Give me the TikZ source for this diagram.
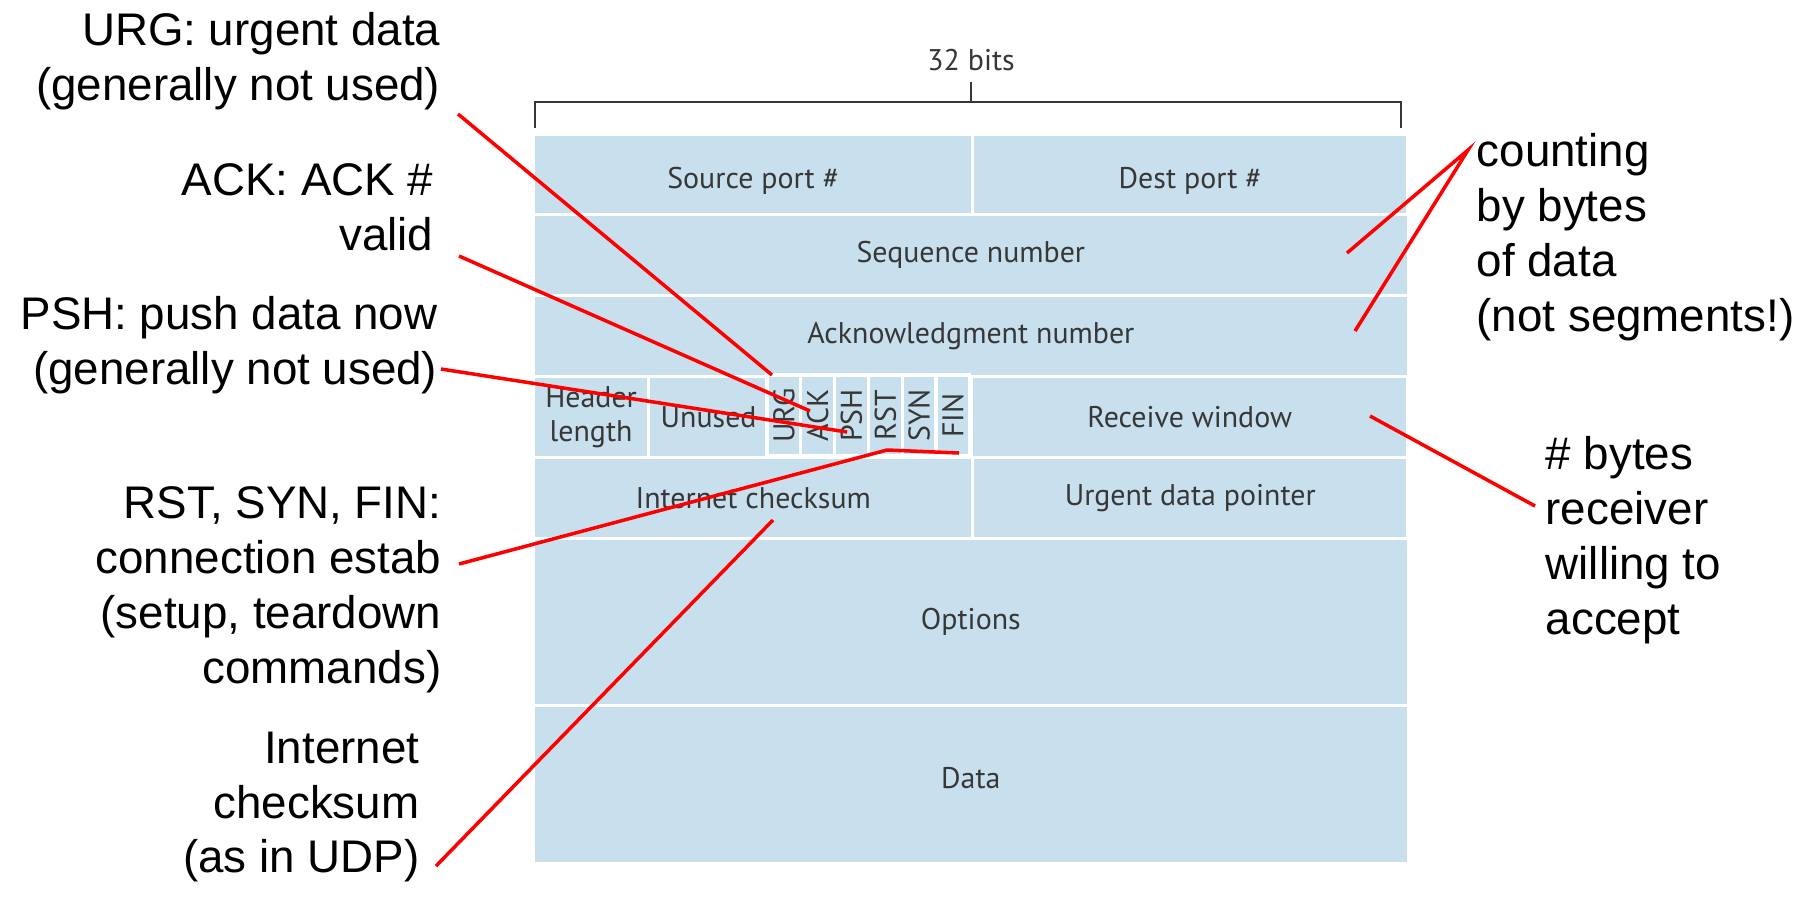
\documentclass[tikz,border=0pt]{standalone}
\usepackage{fontspec}
\setmainfont{Liberation Sans}
\newfontfamily\cellfont{PT Sans}
\definecolor{cellblue}{RGB}{200,224,237}
\definecolor{celltext}{RGB}{55,55,55}
\begin{document}
\begin{tikzpicture}[x=0.01cm,y=-0.01cm,
  cell/.style={draw=white,line width=0.9pt,fill=cellblue,inner sep=0pt,anchor=north west,
    text=celltext,font=\cellfont\fontsize{8.5}{9.5}\selectfont},
  note/.style={inner sep=0pt,font=\fontsize{13}{15.6}\selectfont},
  pointer/.style={red,line width=1pt}]
\useasboundingbox (0,0) rectangle (1813,902);
\node[inner sep=0pt,text=celltext,font=\cellfont\fontsize{8.5}{9.5}\selectfont] (bits) at (971,60) {32 bits};
\draw[celltext,line width=0.6pt] (535,128) |- (1401,102) -- (1401,128) (971,102) -- (971,82);
\node[cell,minimum width=4.39cm,minimum height=0.80cm,text height=0.35cm,text depth=0.07cm] (src) at (532,133) {Source port \#};
\node[cell,minimum width=4.35cm,minimum height=0.80cm,text height=0.35cm,text depth=0.07cm] (dst) at (971,133) {Dest port \#};
\node[cell,minimum width=8.74cm,minimum height=0.81cm] (seq) at (532,213) {Sequence number};
\node[cell,minimum width=8.74cm,minimum height=0.81cm] (ackno) at (532,294) {Acknowledgment number};
\node[cell,minimum width=1.15cm,minimum height=0.81cm,align=center] (hlen) at (532,375) {Header\\length};
\node[cell,minimum width=1.20cm,minimum height=0.81cm] (unused) at (647,375) {Unused};
\foreach \f [count=\i] in {URG,ACK,PSH,RST,SYN,FIN}
  \node[cell,anchor=center,rotate=90,minimum width=0.81cm,minimum height=0.338cm] (flag\f) at ({767+33.8*(\i-0.5)},415.5) {\f};
\node[cell,minimum width=4.36cm,minimum height=0.81cm] (rwnd) at (970,375) {Receive window};
\node[cell,minimum width=4.39cm,minimum height=0.81cm] (csum) at (532,456) {Internet checksum};
\node[cell,minimum width=4.35cm,minimum height=0.81cm] (urgptr) at (971,456) {Urgent data pointer};
\node[cell,minimum width=8.74cm,minimum height=1.67cm] (opts) at (532,537) {Options};
\node[cell,minimum width=8.74cm,minimum height=1.58cm,text height=0.21cm,text depth=0.14cm] (data) at (532,704) {Data};

\node[note,anchor=east,align=right] (urgnote) at (441,61) {URG: urgent data\\(generally not used)};
\node[note,anchor=east,align=right] (acknote) at (434,207) {ACK: ACK \#\\valid};
\node[note,anchor=east,align=right] (pshnote) at (438,345) {PSH: push data now\\(generally not used)};
\node[note,anchor=east,align=right] (rstnote) at (442,590) {RST, SYN, FIN:\\connection estab\\(setup, teardown\\commands)};
\node[note,anchor=east,align=right] (csumnote) at (420,807) {Internet\\checksum\\(as in UDP)};
\node[note,anchor=west,align=left] (seqnote) at (1476,237) {counting\\by bytes\\of data\\(not segments!)};
\node[note,anchor=west,align=left] (rwndnote) at (1545,540) {\# bytes\\receiver\\willing to\\accept};

\coordinate (urgfrom) at (458,114);
\coordinate (urgto) at (772,375);
\coordinate (ackfrom) at (459,256);
\coordinate (ackto) at (810,411);
\coordinate (pshfrom) at (441,369);
\coordinate (pshto) at (847,432);
\coordinate (rstfrom) at (459,564);
\coordinate (rstbend) at (887,450);
\coordinate (rstto) at (959,453);
\coordinate (csumfrom) at (436,866);
\coordinate (csumto) at (773,520);
\coordinate (seqfrom) at (1468,150);
\coordinate (seqto) at (1347,253);
\coordinate (acknoto) at (1355,331);
\coordinate (rwndfrom) at (1370,416);
\coordinate (rwndto) at (1535,506);
\draw[pointer] (urgfrom) -- (urgto);
\draw[pointer] (ackfrom) -- (ackto);
\draw[pointer] (pshfrom) -- (pshto);
\draw[pointer] (rstfrom) -- (rstbend) -- (rstto);
\draw[pointer] (csumfrom) -- (csumto);
\draw[pointer] (seqto) -- (seqfrom) -- (acknoto);
\draw[pointer] (rwndfrom) -- (rwndto);
\end{tikzpicture}
\end{document}
